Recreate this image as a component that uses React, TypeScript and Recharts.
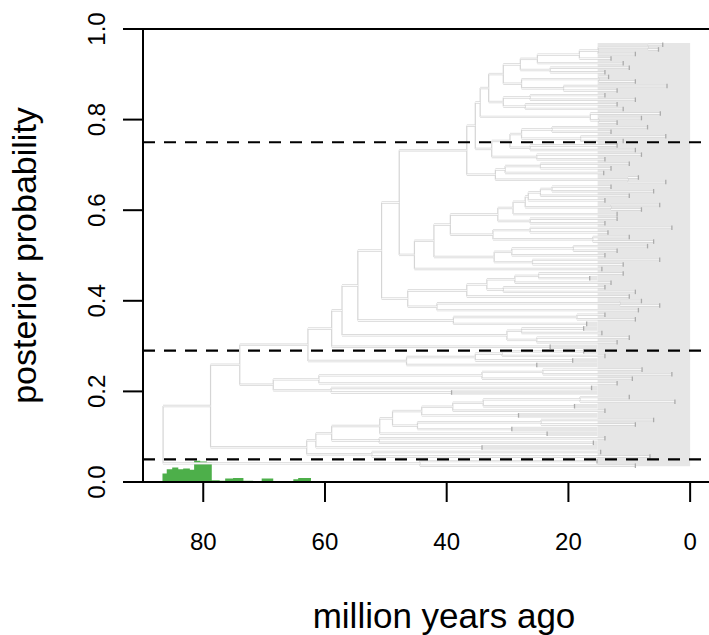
import React from "react"
import { ComposedChart, Area, XAxis, YAxis, ReferenceLine, ReferenceArea, Label } from "recharts"

// a clade is [node age, ...children]; a bare number is a tip lineage and its value
// is the age (million years ago) where the drawn branch stops and its crown begins
type Clade = number | Clade[]

const cladeA: Clade = [36.7,
  [35.3,
    [34.5,
      [33.1,
        [30.7,
          [27.9, [25.1, [18.2, [15.1, [6.9, 4.5, 5.2], 9], 13], 11], [23, 10, 14]],
          [27.7, [15, 13.4, 9], [20.8, 3.8, 12]]],
        [30.7, [26.3, 14, 9], [27.1, 12, 11]]],
      [16.4, 4.9, [15, 8, 12]]],
    [32.6,
      [29.6, [27.7, [22.7, 7, 13], [18, 4, 11]], [26.3, 12, 9]],
      [25.2, 8, 14]]],
  [32, [30.4, [24.6, 10, 13], 14.2], [10.2, 8.5, 4]]]

const cladeB: Clade = [45.3,
  [42.1,
    [39.4,
      [31.6,
        [29.1, [27.1, [26.6, [24.6, [22.7, 13, 6], 10], 14], [13, 5, 8]], 12],
        [26.3, 12, 14]],
      [32.4, [26.3, 3, 13.5], [16, 10, 6]]],
    [32.2, [29.3, [19.2, 7, 12], 14], [25.9, 5, 11]]],
  14.5]

const cladeC: Clade = [46.4,
  [36.7, [33.4, [28.8, [24.9, 11, 16.5], 13], [30.7, 14, 9]], 10],
  [41.6, [11.5, 8, 5], 8.5]]

const cladeD: Clade = [38.9, [18.6, 14, 9], 17]
const cladeE: Clade = [30.1, [27.7, 17.5, 14.5], [25.2, 10, 12]]
const cladeF: Clade = [46.6, [35.3, [30.9, 17.5, 14], 19.3], 25.2]
const cladeG: Clade = [68.5, [61, [34.2, [24.2, 7.9, 3], 9.5], 12], [59, 16.2, 39.2]]
const cladeH: Clade = [63,
  [61.5,
    [58.9,
      [51, [48.9, [44.1, [39, [34, [18.1, 10, 2.5], 19], 14], 28.2], [44.8, [24.5, 6, 9], 29.3]], 23.5],
      [51.1, 14, 15.9]],
    34.2],
  [52.3, 14.7, 6.6]]
const cladeI: Clade = [44.4, 15.3, 9]

const tree: Clade = [86.6,
  [78.8,
    [74,
      [62.8, [58.9, [57.2, [54.6, [50.7, [47.8, cladeA, cladeB], cladeC], cladeD], cladeE], 23], cladeF],
      cladeG],
    cladeH],
  cladeI]

// posterior probability of the shift, by age bin (left edge of each bin)
const histAges = [86.7, 86.0, 85.1, 84.1, 83.3, 82.2, 81.5, 80.5, 79.4, 78.6, 77.3, 76.4, 75.1, 73.4, 71.8, 70.4, 68.5, 65.2, 64.4, 63.0, 62.3]
const histProb = [0.019, 0.028, 0.032, 0.028, 0.03, 0.027, 0.047, 0.045, 0.043, 0.004, 0.003, 0.008, 0.009, 0.003, 0.002, 0.008, 0.002, 0.006, 0.009, 0.009, 0]

const cutoffs = [0.75, 0.29, 0.05]
const xTicks = [80, 60, 40, 20, 0]
const yTicks = [0, 0.2, 0.4, 0.6, 0.8, 1]

const tipTop = 0.965
const tipBottom = 0.036
const crownFrom = 15.2
const crownTop = 0.969
const crownBottom = 0.035

const GRAY = "#e6e6e6"
const BRANCH = "#d5d5d5"

function countTips(c: Clade): number {
  return typeof c === "number" ? 1 : c.slice(1).reduce((s: number, k) => s + countTips(k as Clade), 0)
}

const nTips = countTips(tree)
const step = (tipTop - tipBottom) / (nTips - 1)

const hSegs: { y: number; from: number; to: number }[] = []
const vSegs: { age: number; y1: number; y2: number }[] = []
const tips: { age: number; y: number }[] = []
let tipIdx = 0

function walk(c: Clade, parentAge: number | null): number {
  if (typeof c === "number") {
    const y = tipTop - step * tipIdx++
    if (parentAge != null) hSegs.push({ y, from: parentAge, to: c })
    tips.push({ age: c, y })
    return y
  }
  const age = c[0] as number
  const ys = c.slice(1).map((k) => walk(k as Clade, age))
  const y = (ys[0] + ys[ys.length - 1]) / 2
  vSegs.push({ age, y1: ys[0], y2: ys[ys.length - 1] })
  if (parentAge != null) hSegs.push({ y, from: parentAge, to: age })
  return y
}
walk(tree, null)

const histRows = histAges.map((t, i) => ({ t, v: histProb[i] }))

const YTick = (props: any) => {
  const { x, y, payload } = props
  return (
    <text x={x} y={y} transform={`rotate(-90 ${x} ${y})`} textAnchor="middle" fontSize={24} fill="#000">
      {Number(payload.value).toFixed(1)}
    </text>
  )
}

const XTitle = (props: any) => {
  const vb = props.viewBox
  return (
    <text x={vb.x + vb.width / 2 + 18} y={vb.y + vb.height - 7} textAnchor="middle" fontSize={35} fill="#000">
      million years ago
    </text>
  )
}

const YTitle = (props: any) => {
  const vb = props.viewBox
  const x = vb.x + 36
  const y = vb.y + vb.height / 2
  return (
    <text x={x} y={y} transform={`rotate(-90 ${x} ${y})`} textAnchor="middle" fontSize={34} fill="#000">
      posterior probability
    </text>
  )
}

export default function App() {
  return (
    <div style={{ width: 709, height: 635, background: "#fff", fontFamily: '"Liberation Sans", Arial, Helvetica, sans-serif' }}>
      <style>{`body{margin:0}`}</style>
      <ComposedChart width={709} height={635} data={histRows} margin={{ top: 29, right: 0, bottom: 0, left: 0 }}>
        <XAxis
          dataKey="t"
          type="number"
          domain={[-3.1, 89.9]}
          reversed
          allowDataOverflow
          ticks={xTicks}
          interval={0}
          height={153}
          tickSize={20}
          tickMargin={31}
          axisLine={{ stroke: "#000", strokeWidth: 2 }}
          tickLine={{ stroke: "#000", strokeWidth: 2 }}
          tick={{ fontSize: 24, fill: "#000" }}
        >
          <Label content={XTitle} />
        </XAxis>
        <YAxis
          type="number"
          domain={[0, 1]}
          allowDataOverflow
          ticks={yTicks}
          interval={0}
          width={143}
          tickSize={20}
          tickMargin={18}
          axisLine={{ stroke: "#000", strokeWidth: 2 }}
          tickLine={{ stroke: "#000", strokeWidth: 2 }}
          tick={YTick}
        >
          <Label content={YTitle} />
        </YAxis>

        <ReferenceArea x1={crownFrom} x2={0} y1={crownBottom} y2={crownTop} fill={GRAY} fillOpacity={1} stroke="none" />
        {tips.filter((t) => t.age > crownFrom).map((t, i) => (
          <ReferenceArea key={"band" + i} x1={t.age} x2={crownFrom} y1={t.y - step / 2} y2={t.y + step / 2} fill={GRAY} fillOpacity={1} stroke="none" />
        ))}

        {hSegs.map((s, i) => (
          <ReferenceLine key={"ho" + i} segment={[{ x: s.from, y: s.y }, { x: s.to, y: s.y }]} stroke={BRANCH} strokeWidth={2.4} ifOverflow="visible" />
        ))}
        {vSegs.map((s, i) => (
          <ReferenceLine key={"v" + i} segment={[{ x: s.age, y: s.y1 }, { x: s.age, y: s.y2 }]} stroke={BRANCH} strokeWidth={1.2} ifOverflow="visible" />
        ))}
        {hSegs.map((s, i) => (
          <ReferenceLine key={"hi" + i} segment={[{ x: s.from, y: s.y }, { x: s.to, y: s.y }]} stroke="#fff" strokeWidth={0.9} ifOverflow="visible" />
        ))}
        {tips.map((t, i) => (
          <ReferenceLine key={"tk" + i} segment={[{ x: t.age, y: t.y - 0.005 }, { x: t.age, y: t.y + 0.005 }]} stroke="#ababab" strokeWidth={1.3} ifOverflow="visible" />
        ))}

        {cutoffs.map((c) => (
          <ReferenceLine key={"cut" + c} y={c} stroke="#000" strokeWidth={2.2} strokeDasharray="12 9" />
        ))}
        <ReferenceLine y={1} stroke="#000" strokeWidth={2} />

        <Area dataKey="v" type="stepAfter" fill="#4DAF4A" fillOpacity={1} stroke="none" isAnimationActive={false} dot={false} activeDot={false} />
      </ComposedChart>
    </div>
  )
}
